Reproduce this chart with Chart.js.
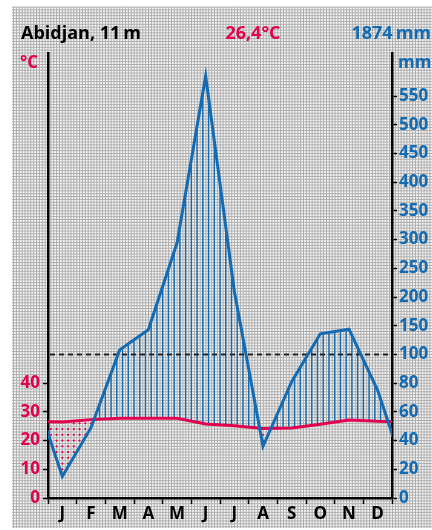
<!DOCTYPE html>
<html>
<head>
<meta charset="utf-8">
<script src="https://cdn.jsdelivr.net/npm/chart.js@4.4.1/dist/chart.umd.min.js"></script>
<style>
  html, body { margin: 0; padding: 0; background: #fff; }
  #wrap { width: 432px; height: 530px; }
</style>
</head>
<body>
<div id="wrap"><canvas id="climate" width="432" height="530"></canvas></div>
<script>
// Climate diagram data
const months = ['J', 'F', 'M', 'A', 'M', 'J', 'J', 'A', 'S', 'O', 'N', 'D'];
const temperature = [26.5, 27.3, 27.8, 27.8, 27.8, 25.8, 25.2, 24.2, 24.4, 25.7, 27.2, 26.7];
const precipitation = [15, 49, 108, 143, 294, 585, 210, 36, 81, 136, 144, 75];
const tempTicks = [0, 10, 20, 30, 40];
const precipTicks = [0, 20, 40, 60, 80, 100, 150, 200, 250, 300, 350, 400, 450, 500, 550];
const station = 'Abidjan, 11\u2009m';
const meanTemp = '26,4°C';
const totalPrecip = '1874\u2009mm';

const RED = '#e3004f';
const BLUE = '#136bb3';
const FONT = '"Open Sans", "Noto Sans", sans-serif';
const UNIT_MAX = 155; // top of the axes in °C units

// 10 °C = 20 mm up to 100 mm, above that 10 °C = 100 mm
function toUnits(mm) { return mm <= 100 ? mm / 2 : 50 + (mm - 100) / 5; }
function fromUnits(u) { return u <= 50 ? u * 2 : 100 + (u - 50) * 5; }

class PrecipScale extends Chart.LinearScale {
  getPixelForValue(value) {
    const u0 = toUnits(this.min), u1 = toUnits(this.max);
    return this.getPixelForDecimal((toUnits(value) - u0) / (u1 - u0));
  }
  getValueForPixel(pixel) {
    const u0 = toUnits(this.min), u1 = toUnits(this.max);
    return fromUnits(u0 + this.getDecimalForPixel(pixel) * (u1 - u0));
  }
}
PrecipScale.id = 'precip';
PrecipScale.defaults = Chart.LinearScale.defaults;
Chart.register(PrecipScale);

// month centres, with december / january repeated on the outside so the curves run to the frame
function series(values) {
  const pts = values.map((v, i) => ({ x: i + 0.5, y: v }));
  pts.unshift({ x: -0.5, y: values[values.length - 1] });
  pts.push({ x: 12.5, y: values[0] });
  return pts;
}

function yAt(points, px) {
  for (let i = 0; i < points.length - 1; i++) {
    const a = points[i], b = points[i + 1];
    if (px >= a.x && px <= b.x) {
      return a.y + (b.y - a.y) * (px - a.x) / (b.x - a.x);
    }
  }
  return null;
}

const paperBackground = {
  id: 'paperBackground',
  beforeDraw(chart) {
    const ctx = chart.ctx;
    const step = (chart.scales.yT.getPixelForValue(0) - chart.scales.yT.getPixelForValue(10)) / 10;
    const x0 = 12, y0 = 7, x1 = chart.width, y1 = 528;
    const zeroY = chart.scales.yT.getPixelForValue(0);
    const leftX = chart.chartArea.left;
    ctx.save();
    ctx.fillStyle = '#f8f8f8';
    ctx.fillRect(x0, y0, x1 - x0, y1 - y0);
    ctx.fillStyle = '#adadad';
    for (let x = leftX - Math.floor((leftX - x0) / step) * step; x < x1; x += step) {
      ctx.fillRect(x - 0.5, y0, 1, y1 - y0);
    }
    for (let y = zeroY + Math.floor((y1 - zeroY) / step) * step; y > y0; y -= step) {
      ctx.fillRect(x0, y - 0.5, x1 - x0, 1);
    }
    ctx.restore();
  }
};

const humidArid = {
  id: 'humidArid',
  beforeDatasetsDraw(chart) {
    const ctx = chart.ctx;
    const area = chart.chartArea;
    const xs = chart.scales.x, yT = chart.scales.yT, yP = chart.scales.yP;
    const pPts = chart.getDatasetMeta(0).data;
    const tPts = chart.getDatasetMeta(1).data;
    ctx.save();
    ctx.beginPath();
    ctx.rect(area.left, area.top, area.right - area.left, area.bottom - area.top);
    ctx.clip();

    // humid: vertical hatching
    ctx.strokeStyle = BLUE;
    ctx.lineWidth = 1.4;
    for (let k = 1; k < 60; k++) {
      const px = xs.getPixelForValue(k / 5);
      const py = yAt(pPts, px), ty = yAt(tPts, px);
      if (py < ty - 1) {
        ctx.beginPath();
        ctx.moveTo(px, ty);
        ctx.lineTo(px, py);
        ctx.stroke();
      }
    }

    // arid: dots
    ctx.fillStyle = RED;
    for (let k = 0; k < 60; k++) {
      const px = xs.getPixelForValue((k + 0.5) / 5);
      const py = yAt(pPts, px), ty = yAt(tPts, px);
      if (py <= ty) continue;
      for (let u = 0; u < 60; u += 2) {
        const dy = yT.getPixelForValue(u);
        if (dy > ty + 2 && dy < py - 2) {
          ctx.beginPath();
          ctx.arc(px, dy, 1.1, 0, Math.PI * 2);
          ctx.fill();
        }
      }
    }

    // 100 mm line
    const y100 = yP.getPixelForValue(100);
    ctx.strokeStyle = '#222';
    ctx.lineWidth = 2;
    ctx.setLineDash([5, 4]);
    ctx.beginPath();
    ctx.moveTo(area.left + 2, y100);
    ctx.lineTo(area.right, y100);
    ctx.stroke();
    ctx.restore();
  }
};

const headings = {
  id: 'headings',
  afterDraw(chart) {
    const ctx = chart.ctx;
    ctx.save();
    ctx.textBaseline = 'alphabetic';
    ctx.font = 'bold 18px ' + FONT;
    ctx.fillStyle = '#000';
    ctx.textAlign = 'left';
    ctx.fillText(station, 21, 39);
    ctx.fillStyle = RED;
    ctx.textAlign = 'center';
    ctx.fillText(meanTemp, 253, 39);
    ctx.fillStyle = BLUE;
    ctx.textAlign = 'right';
    ctx.fillText(totalPrecip, 431, 39);

    ctx.font = 'bold 17px ' + FONT;
    ctx.fillStyle = RED;
    ctx.textAlign = 'left';
    ctx.fillText('°C', 20, 68);
    ctx.fillStyle = BLUE;
    ctx.fillText('mm', 398, 68);
    ctx.restore();
  }
};

const axisGrid = {
  drawOnChartArea: false,
  drawTicks: true,
  tickLength: 5,
  tickColor: '#000',
  tickWidth: 1.5
};
const axisBorder = { display: true, color: '#000', width: 2.5 };

new Chart(document.getElementById('climate'), {
  type: 'line',
  data: {
    datasets: [
      {
        label: 'Niederschlag',
        data: series(precipitation),
        yAxisID: 'yP',
        borderColor: BLUE,
        borderWidth: 3,
        pointRadius: 0,
        tension: 0,
        clip: 0
      },
      {
        label: 'Temperatur',
        data: series(temperature),
        yAxisID: 'yT',
        borderColor: RED,
        borderWidth: 3,
        pointRadius: 0,
        tension: 0,
        clip: 0
      }
    ]
  },
  options: {
    responsive: false,
    animation: false,
    layout: { padding: { top: 53 } },
    plugins: { legend: { display: false }, tooltip: { enabled: false } },
    scales: {
      x: {
        type: 'linear',
        min: 0,
        max: 12,
        afterBuildTicks: s => { s.ticks = months.map((m, i) => ({ value: i })).concat({ value: 12 }); },
        afterFit: s => { s.height = 32; },
        grid: { ...axisGrid, tickLength: 6 },
        border: axisBorder,
        ticks: {
          autoSkip: false,
          maxRotation: 0,
          labelOffset: 14.33,
          padding: 0,
          color: '#000',
          font: { family: FONT, size: 17, weight: 'bold' },
          callback: (v, i) => months[i] || ''
        }
      },
      yT: {
        type: 'linear',
        position: 'left',
        min: 0,
        max: UNIT_MAX,
        afterBuildTicks: s => { s.ticks = tempTicks.map(v => ({ value: v })); },
        afterFit: s => { s.width = 48; },
        grid: axisGrid,
        border: axisBorder,
        ticks: {
          autoSkip: false,
          padding: 3,
          color: RED,
          font: { family: FONT, size: 17, weight: 'bold' }
        }
      },
      yP: {
        type: 'precip',
        position: 'right',
        min: 0,
        max: fromUnits(UNIT_MAX),
        afterBuildTicks: s => { s.ticks = precipTicks.map(v => ({ value: v })); },
        afterFit: s => { s.width = 40; },
        grid: axisGrid,
        border: axisBorder,
        ticks: {
          autoSkip: false,
          padding: 2,
          color: BLUE,
          font: { family: FONT, size: 17, weight: 'bold' }
        }
      }
    }
  },
  plugins: [paperBackground, humidArid, headings]
});
</script>
</body>
</html>
